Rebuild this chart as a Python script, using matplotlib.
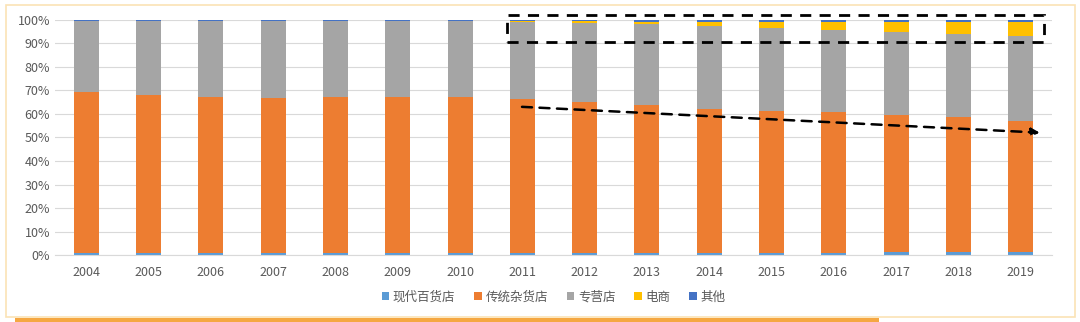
import numpy as np
import matplotlib
matplotlib.use('Agg')
import matplotlib.pyplot as plt
from matplotlib.patches import Rectangle
from matplotlib.ticker import PercentFormatter

plt.rcParams['font.family'] = ['Noto Sans CJK SC', 'DejaVu Sans']

# 数据 (百分比)
years = [str(y) for y in range(2004, 2020)]
modern_dept = [0.8, 0.8, 0.8, 0.8, 0.8, 0.8, 0.8, 0.8, 0.9, 0.9, 1.0, 1.0, 1.0, 1.1, 1.1, 1.2]
traditional_top = [69.4, 68.1, 67.4, 66.7, 67.2, 67.3, 67.3, 66.3, 65.2, 63.8, 62.0, 61.3, 60.7, 59.6, 58.6, 57.1]
ecommerce = [0.0, 0.0, 0.0, 0.0, 0.0, 0.0, 0.0, 0.3, 0.6, 1.0, 1.8, 2.5, 3.3, 4.3, 5.0, 6.0]
others = [0.3, 0.3, 0.3, 0.3, 0.3, 0.3, 0.3, 0.5, 0.6, 0.7, 0.8, 0.8, 0.9, 0.9, 1.0, 1.0]

modern_dept = np.array(modern_dept)
traditional = np.array(traditional_top) - modern_dept
ecommerce = np.array(ecommerce)
others = np.array(others)
specialty = 100 - modern_dept - traditional - ecommerce - others

labels = ['现代百货店', '传统杂货店', '专营店', '电商', '其他']
colors = ['#5B9BD5', '#ED7D31', '#A5A5A5', '#FFC000', '#4472C4']

fig = plt.figure(figsize=(10.8, 3.22), dpi=100)
ax = fig.add_axes([0.051, 0.208, 0.923, 0.73])

x = np.arange(len(years))
bottom = np.zeros(len(years))
for vals, lab, col in zip([modern_dept, traditional, specialty, ecommerce, others], labels, colors):
    ax.bar(x, vals, width=0.4, bottom=bottom, color=col, label=lab, zorder=2)
    bottom += vals

ax.set_xlim(-0.5, len(years) - 0.5)
ax.set_ylim(0, 100)
ax.set_yticks(np.arange(0, 101, 10))
ax.yaxis.set_major_formatter(PercentFormatter(decimals=0))
ax.set_xticks(x)
ax.set_xticklabels(years)
ax.tick_params(axis='both', length=0, labelsize=9, labelcolor='#595959')
ax.tick_params(axis='x', pad=8)
ax.grid(axis='y', color='#D9D9D9', linewidth=0.8, zorder=0)
for s in ['top', 'right', 'left']:
    ax.spines[s].set_visible(False)
ax.spines['bottom'].set_color('#D9D9D9')

# 虚线框 + 趋势箭头
rect = Rectangle((6.75, 90.6), 8.62, 11.5, fill=False, edgecolor='black',
                 linestyle=(0, (4, 3)), linewidth=2, clip_on=False, zorder=5)
ax.add_patch(rect)
ax.annotate('', xy=(15.35, 52.0), xytext=(6.95, 63.1),
            arrowprops=dict(arrowstyle='-|>', color='black', lw=1.8,
                            linestyle=(0, (4, 3)), mutation_scale=12),
            zorder=5)

leg = ax.legend(loc='center', bbox_to_anchor=(0.5, -0.18), ncol=5, frameon=False,
                fontsize=9, handlelength=0.6, handleheight=0.6, handletextpad=0.3,
                columnspacing=1.5)
for t in leg.get_texts():
    t.set_color('#595959')

# 外框
fig.patches.append(Rectangle((0.006, 0.016), 0.989, 0.97, transform=fig.transFigure,
                             fill=False, edgecolor='#FBE3B5', linewidth=1.2))
fig.patches.append(Rectangle((0.014, 0.0), 0.8, 0.013, transform=fig.transFigure,
                             facecolor='#F5A742', edgecolor='none'))

fig.savefig('out.png', dpi=100)
